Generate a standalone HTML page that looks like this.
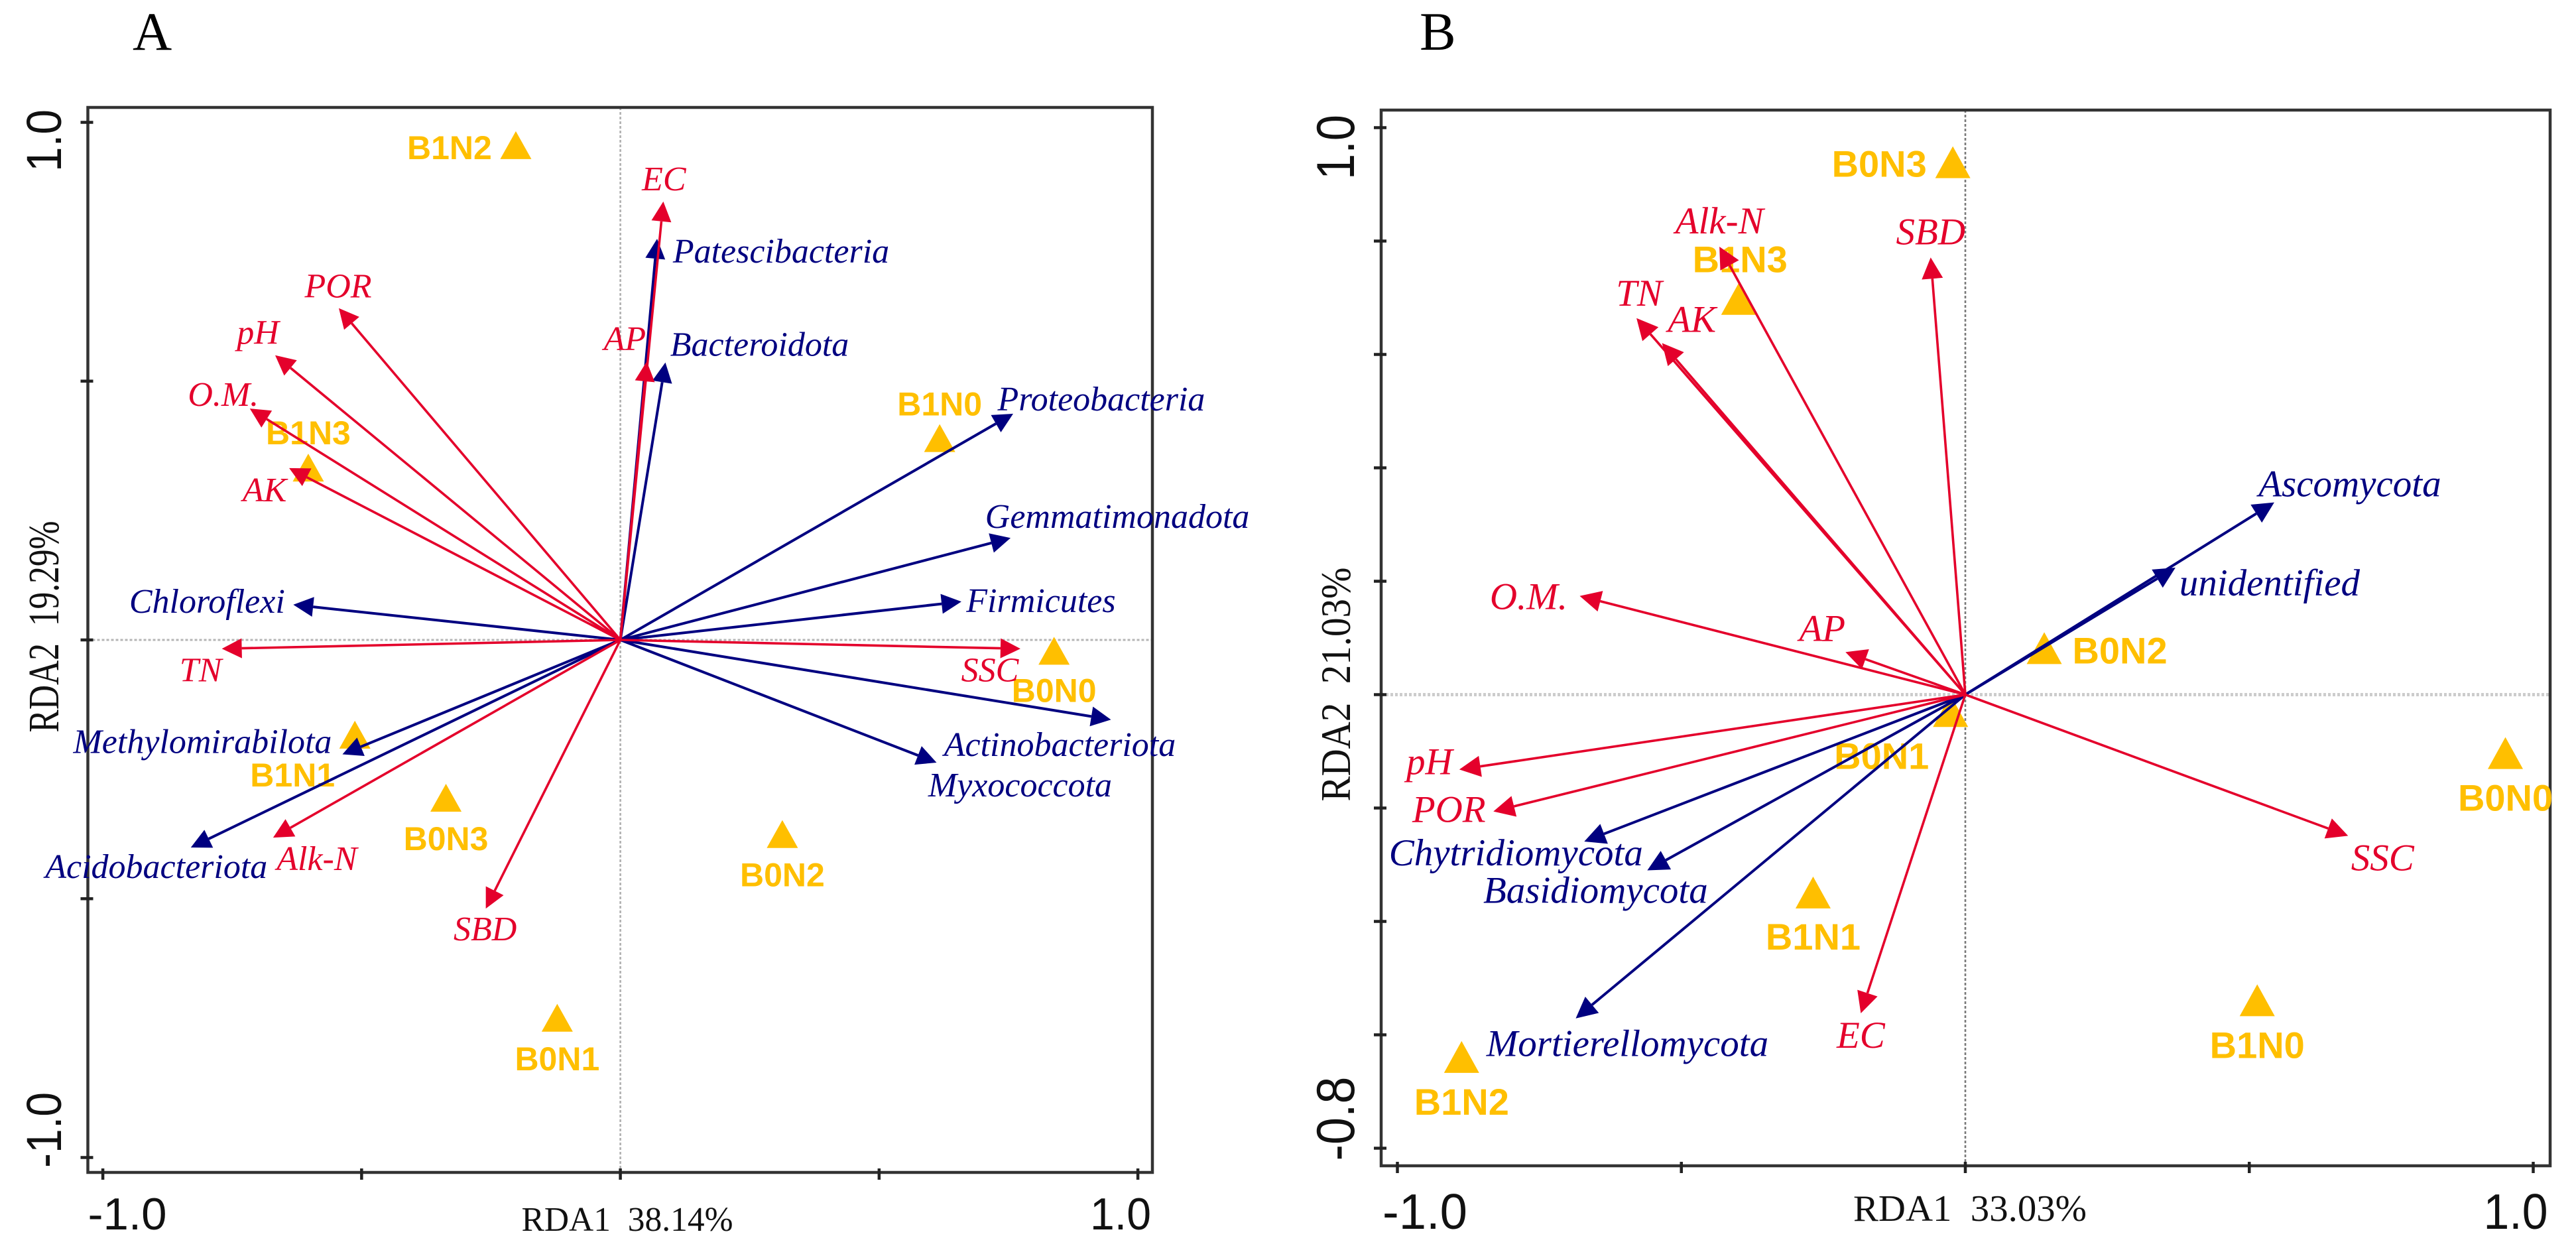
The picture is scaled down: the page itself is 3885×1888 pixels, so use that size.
<!DOCTYPE html>
<html lang="en">
<head>
<meta charset="utf-8">
<title>RDA biplots A and B</title>
<style>
html,body{margin:0;padding:0;background:#fff;width:3885px;height:1888px;overflow:hidden}
svg{display:block}
</style>
</head>
<body>
<svg id="chart" xmlns="http://www.w3.org/2000/svg" width="3885" height="1888" viewBox="0 0 3885 1888"></svg>
<script>
// ---------- Panel A data ----------
const envNamesA = ['EC','POR','pH','O.M.','AK','AP','TN','SSC','Alk-N','SBD'];
const envRda1A = [0.083,-0.544,-0.667,-0.716,-0.640,0.051,-0.770,0.773,-0.671,-0.260];
const envRda2A = [0.847,0.641,0.550,0.447,0.332,0.538,-0.017,-0.017,-0.382,-0.519];
const taxaNamesA = ['Patescibacteria','Bacteroidota','Proteobacteria','Gemmatimonadota','Firmicutes','Chloroflexi','Actinobacteriota','Myxococcota','Methylomirabilota','Acidobacteriota'];
const taxaRda1A = [0.071,0.087,0.759,0.754,0.659,-0.632,0.948,0.611,-0.537,-0.830];
const taxaRda2A = [0.775,0.536,0.437,0.197,0.074,0.068,-0.154,-0.237,-0.221,-0.401];
const siteNamesA = ['B1N2','B1N3','B1N0','B0N0','B1N1','B0N3','B0N2','B0N1'];
const siteRda1A = [-0.202,-0.603,0.617,0.838,-0.513,-0.337,0.313,-0.122];
const siteRda2A = [0.956,0.333,0.390,-0.021,-0.183,-0.305,-0.375,-0.730];
const xTicksA = [-1,-0.5,0,0.5,1];
const yTicksA = [-1,-0.5,0,0.5,1];

// ---------- Panel B data ----------
const envNamesB = ['Alk-N','SBD','TN','AK','O.M.','AP','pH','POR','EC','SSC'];
const envRda1B = [-0.433,-0.061,-0.579,-0.534,-0.679,-0.211,-0.891,-0.831,-0.184,0.674];
const envRda2B = [0.790,0.771,0.664,0.620,0.174,0.075,-0.132,-0.206,-0.562,-0.249];
const taxaNamesB = ['Ascomycota','unidentified','Chytridiomycota','Basidiomycota','Mortierellomycota'];
const taxaRda1B = [0.544,0.370,-0.671,-0.560,-0.686];
const taxaRda2B = [0.339,0.224,-0.259,-0.310,-0.571];
const siteNamesB = ['B0N3','B1N3','B0N2','B0N1','B0N0','B1N1','B1N0','B1N2'];
const siteRda1B = [-0.022,-0.399,0.139,-0.026,0.951,-0.268,0.514,-0.887];
const siteRda2B = [0.939,0.698,0.082,-0.029,-0.103,-0.349,-0.539,-0.639];
const xTicksB = [-1,-0.5,0,0.5,1];
const yTicksB = [-0.8,-0.6,-0.4,-0.2,0,0.2,0.4,0.6,0.8,1];

// ---------- Text ----------
const axisXTitleA = 'RDA1\u00a0\u00a038.14%';
const axisYTitleA = 'RDA2\u00a0\u00a019.29%';
const axisXTitleB = 'RDA1\u00a0\u00a033.03%';
const axisYTitleB = 'RDA2\u00a0\u00a021.03%';

// ---------- Layout (label nudges from each mark, not data) ----------
const nudgeA = {
  'EC':[1,-17],'POR':[-1,-16],'pH':[-26,-17],'O.M.':[-40,-4],'AK':[-37,50],'AP':[-33,-17],'TN':[-32,49],'SSC':[-46,49],'Alk-N':[66,49],'SBD':[-1,48],
  'Patescibacteria':[187,36],'Bacteroidota':[142,-10],'Proteobacteria':[133,-5],'Gemmatimonadota':[161,-15],'Firmicutes':[120,16],'Chloroflexi':[-130,12],'Actinobacteriota':[-77,55],'Myxococcota':[126,51],'Methylomirabilota':[-211,-2],'Acidobacteriota':[-52,46],
  'B1N2':[-100,21],'B1N3':[0,-35],'B1N0':[0,-34],'B0N0':[0,77],'B1N1':[-94,78],'B0N3':[0,79],'B0N2':[0,79],'B0N1':[0,79]
};
const nudgeB = {
  'Alk-N':[0,-20],'SBD':[0,-20],'TN':[4,-19],'AK':[45,-17],'O.M.':[-77,20],'AP':[-35,-17],'pH':[-45,7],'POR':[-67,16],'EC':[0,52],'SSC':[52,52],
  'Ascomycota':[114,-9],'unidentified':[142,42],'Chytridiomycota':[-103,36],'Basidiomycota':[-78,49],'Mortierellomycota':[78,57],
  'B0N3':[-111,22],'B1N3':[2,-40],'B0N2':[114,23],'B0N1':[-104,87],'B0N0':[0,87],'B1N1':[0,86],'B1N0':[0,87],'B1N2':[0,87]
};

const RED = '#e4002b', BLUE = '#000080', GOLD = '#ffbf00';
const SERIF = '"Liberation Serif", serif', SANS = '"Liberation Sans", sans-serif';
const NS = 'http://www.w3.org/2000/svg';
const svg = document.getElementById('chart');

function node(parent, tag, attrs, text) {
  const el = document.createElementNS(NS, tag);
  for (const k in attrs) el.setAttribute(k, attrs[k]);
  if (text !== undefined) el.textContent = text;
  parent.appendChild(el);
  return el;
}
function slug(s) {
  return s.toLowerCase().replace(/[^a-z0-9]+/g, '-').replace(/^-|-$/g, '');
}

function drawArrow(group, px, py, tipX, tipY, color, width, headLen, headHalf, name) {
  const a = Math.atan2(tipY - py, tipX - px);
  const ca = Math.cos(a), sa = Math.sin(a);
  const bx = tipX - headLen * ca, by = tipY - headLen * sa;
  const line = node(group, 'line', {x1: px, y1: py, x2: bx, y2: by, stroke: color, 'stroke-width': width});
  
  
  const pts = [[tipX, tipY], [bx - headHalf * sa, by + headHalf * ca], [bx + headHalf * sa, by - headHalf * ca]];
  const head = node(group, 'polygon', {points: pts.map(p => p.join(',')).join(' '), fill: color});
  
  
}

function drawPanel(p) {
  const X = v => p.x0 + p.ux * v;
  const Y = v => p.y0 - p.uy * v;
  const g = node(svg, 'g', {});
  
  

  const letter = node(g, 'text', {x: p.letterX, y: 75, 'font-family': SERIF, 'font-size': 82, fill: '#000'}, p.id);
  
  

  // reference lines
  const h = node(g, 'line', {x1: p.left, x2: p.right, y1: Y(0), y2: Y(0), stroke: p.hColor, 'stroke-width': p.hWidth, 'stroke-dasharray': '4 3'});
  
  
  const v = node(g, 'line', {x1: X(0), x2: X(0), y1: p.top, y2: p.bottom, stroke: p.vColor, 'stroke-width': 2.6, 'stroke-dasharray': '4 3'});
  
  

  // frame
  const frame = node(g, 'rect', {x: p.left, y: p.top, width: p.right - p.left, height: p.bottom - p.top, fill: 'none', stroke: '#333', 'stroke-width': 4.5});
  
  

  // ticks
  p.xTicks.forEach(t => {
    const tk = node(g, 'line', {x1: X(t), x2: X(t), y1: p.bottom - 6, y2: p.bottom + 11, stroke: '#222', 'stroke-width': 4.5});
    
    
  });
  p.yTicks.forEach(t => {
    const tk = node(g, 'line', {x1: p.left - 11, x2: p.left + 8, y1: Y(t), y2: Y(t), stroke: '#222', 'stroke-width': 4.5});
    
    
  });

  // tick labels
  p.xLabels.forEach(l => {
    const el = node(g, 'text', {x: l.x, y: l.y, 'text-anchor': 'middle', 'font-family': SANS, 'font-size': l.size, fill: '#111', textLength: l.len, lengthAdjust: 'spacingAndGlyphs'}, l.text);
    
    
  });
  p.yLabels.forEach(l => {
    const el = node(g, 'text', {transform: 'translate(' + l.x + ',' + l.y + ') rotate(-90)', 'text-anchor': 'middle', 'font-family': SANS, 'font-size': l.size, fill: '#111', textLength: l.len, lengthAdjust: 'spacingAndGlyphs'}, l.text);
    
    
  });

  // axis titles
  const xt = node(g, 'text', {x: p.xTitle.x, y: p.xTitle.y, 'text-anchor': 'middle', 'font-family': SERIF, 'font-size': p.xTitle.size, fill: '#111', textLength: p.xTitle.len, lengthAdjust: 'spacingAndGlyphs'}, p.xTitle.text);
  
  
  const yt = node(g, 'text', {transform: 'translate(' + p.yTitle.x + ',' + p.yTitle.y + ') rotate(-90)', 'text-anchor': 'middle', 'font-family': SERIF, 'font-size': p.yTitle.size, fill: '#111', textLength: p.yTitle.len, lengthAdjust: 'spacingAndGlyphs'}, p.yTitle.text);
  
  

  // sites (under arrows)
  p.siteNames.forEach((n, i) => {
    const cx = X(p.siteX[i]), cy = Y(p.siteY[i]);
    const tri = node(g, 'polygon', {
      points: [[cx, cy - p.triH / 2], [cx - p.triW / 2, cy + p.triH / 2], [cx + p.triW / 2, cy + p.triH / 2]].map(q => q.join(',')).join(' '),
      fill: GOLD
    });
    
    
    const o = p.nudge[n];
    const lb = node(g, 'text', {x: cx + o[0], y: cy + o[1], 'text-anchor': 'middle', 'font-family': SANS, 'font-weight': 'bold', 'font-size': p.siteFont, fill: GOLD}, n);
    
    
  });

  // arrows
  p.taxaNames.forEach((n, i) => {
    drawArrow(g, X(0), Y(0), X(p.taxaX[i]), Y(p.taxaY[i]), BLUE, 4, p.headLen, p.headHalf, 'taxon-' + slug(n));
  });
  p.envNames.forEach((n, i) => {
    drawArrow(g, X(0), Y(0), X(p.envX[i]), Y(p.envY[i]), RED, 3.6, p.headLen, p.headHalf, 'env-' + slug(n));
  });

  // arrow labels
  p.taxaNames.forEach((n, i) => {
    const o = p.nudge[n];
    const lb = node(g, 'text', {x: X(p.taxaX[i]) + o[0], y: Y(p.taxaY[i]) + o[1], 'text-anchor': 'middle', 'font-family': SERIF, 'font-style': 'italic', 'font-size': p.labelFont, fill: BLUE}, n);
    
    
  });
  p.envNames.forEach((n, i) => {
    const o = p.nudge[n];
    const lb = node(g, 'text', {x: X(p.envX[i]) + o[0], y: Y(p.envY[i]) + o[1], 'text-anchor': 'middle', 'font-family': SERIF, 'font-style': 'italic', 'font-size': p.labelFont, fill: RED}, n);
    
    
  });
}

drawPanel({
  id: 'A', letterX: 200,
  x0: 935.6, y0: 965, ux: 780.5, uy: 780.5,
  left: 132.5, right: 1738, top: 162, bottom: 1768,
  hColor: '#b5b5b5', hWidth: 3, vColor: '#b0b0b0',
  xTicks: xTicksA, yTicks: yTicksA,
  xLabels: [{text: '-1.0', x: 192, y: 1854, size: 68, len: 119}, {text: '1.0', x: 1690, y: 1854, size: 68, len: 92}],
  yLabels: [{text: '1.0', x: 92, y: 212, size: 74, len: 94}, {text: '-1.0', x: 92, y: 1704, size: 74, len: 114}],
  xTitle: {text: axisXTitleA, x: 946, y: 1856, size: 52, len: 319},
  yTitle: {text: axisYTitleA, x: 88, y: 945, size: 66, len: 319},
  siteNames: siteNamesA, siteX: siteRda1A, siteY: siteRda2A,
  envNames: envNamesA, envX: envRda1A, envY: envRda2A,
  taxaNames: taxaNamesA, taxaX: taxaRda1A, taxaY: taxaRda2A,
  nudge: nudgeA, triW: 47, triH: 42, siteFont: 50, labelFont: 52, headLen: 30, headHalf: 15
});

drawPanel({
  id: 'B', letterX: 2141,
  x0: 2964, y0: 1047.5, ux: 856.5, uy: 855,
  left: 2083, right: 3846, top: 166, bottom: 1758,
  hColor: '#cccccc', hWidth: 5, vColor: '#7a7a7a',
  xTicks: xTicksB, yTicks: yTicksB,
  xLabels: [{text: '-1.0', x: 2149, y: 1853, size: 75, len: 128}, {text: '1.0', x: 3794, y: 1853, size: 75, len: 97}],
  yLabels: [{text: '1.0', x: 2042, y: 222, size: 81, len: 98}, {text: '-0.8', x: 2042, y: 1687, size: 81, len: 127}],
  xTitle: {text: axisXTitleB, x: 2971, y: 1841, size: 56, len: 352},
  yTitle: {text: axisYTitleB, x: 2036, y: 1032, size: 64, len: 353},
  siteNames: siteNamesB, siteX: siteRda1B, siteY: siteRda2B,
  envNames: envNamesB, envX: envRda1B, envY: envRda2B,
  taxaNames: taxaNamesB, taxaX: taxaRda1B, taxaY: taxaRda2B,
  nudge: nudgeB, triW: 53, triH: 48, siteFont: 56, labelFont: 57, headLen: 32, headHalf: 16
});
</script>
</body>
</html>
